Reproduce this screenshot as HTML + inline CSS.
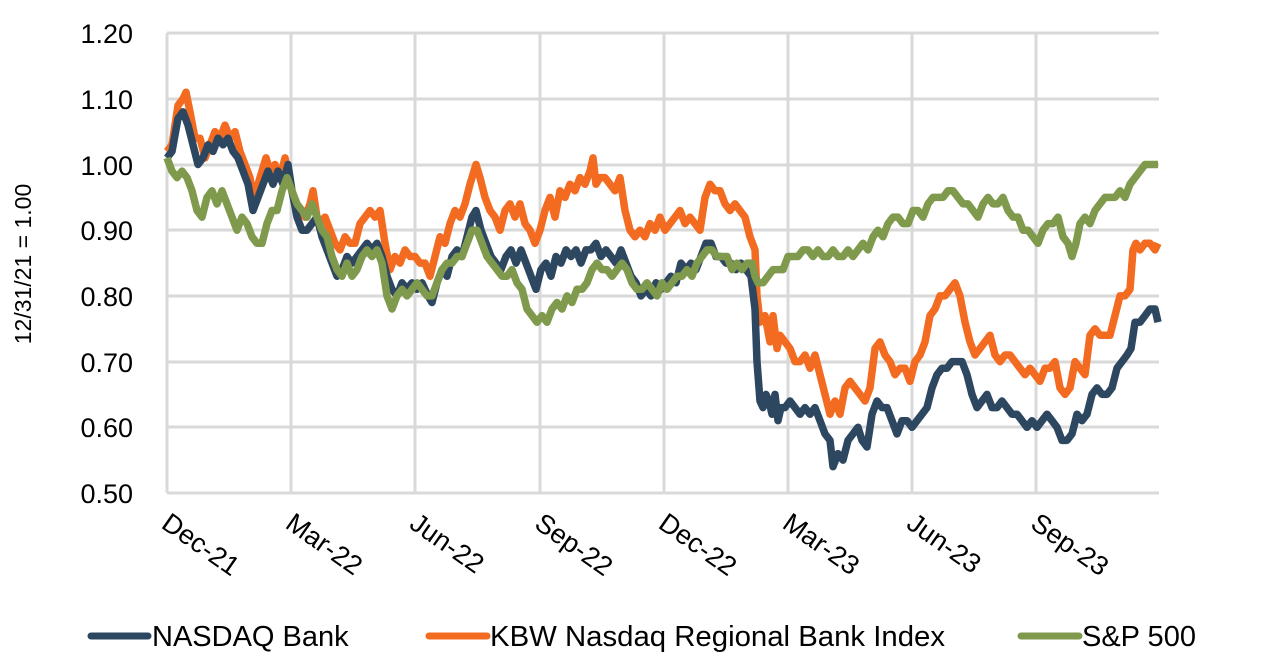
<!DOCTYPE html>
<html><head><meta charset="utf-8"><style>
html,body{margin:0;padding:0;background:#fff}
svg text{font-family:"Liberation Sans",Arial,sans-serif;fill:#000}
</style></head><body>
<svg id="s" width="1273" height="659" viewBox="0 0 1273 659" xmlns="http://www.w3.org/2000/svg">
<g stroke="#d9d9d9" stroke-width="3" fill="none">
<line x1="167" y1="33" x2="1159" y2="33"/><line x1="167" y1="99" x2="1159" y2="99"/>
<line x1="167" y1="165" x2="1159" y2="165"/><line x1="167" y1="230" x2="1159" y2="230"/>
<line x1="167" y1="296" x2="1159" y2="296"/><line x1="167" y1="362" x2="1159" y2="362"/>
<line x1="167" y1="427" x2="1159" y2="427"/><line x1="167" y1="493" x2="1159" y2="493"/>
<line x1="167" y1="33" x2="167" y2="493"/><line x1="291" y1="33" x2="291" y2="493"/>
<line x1="415" y1="33" x2="415" y2="493"/><line x1="540" y1="33" x2="540" y2="493"/>
<line x1="664" y1="33" x2="664" y2="493"/><line x1="788" y1="33" x2="788" y2="493"/>
<line x1="912" y1="33" x2="912" y2="493"/><line x1="1036" y1="33" x2="1036" y2="493"/>
</g>
<g font-size="27" text-anchor="end">
<text x="133" y="43">1.20</text><text x="133" y="109">1.10</text><text x="133" y="175">1.00</text>
<text x="133" y="240">0.90</text><text x="133" y="306">0.80</text><text x="133" y="372">0.70</text>
<text x="133" y="437">0.60</text><text x="133" y="503">0.50</text>
</g>
<text font-size="23" text-anchor="middle" transform="translate(31,264) rotate(-90)">12/31/21 = 1.00</text>
<g font-size="27">
<text transform="translate(160,527) rotate(35)">Dec-21</text>
<text transform="translate(284,527) rotate(35)">Mar-22</text>
<text transform="translate(408,527) rotate(35)">Jun-22</text>
<text transform="translate(533,527) rotate(35)">Sep-22</text>
<text transform="translate(657,527) rotate(35)">Dec-22</text>
<text transform="translate(781,527) rotate(35)">Mar-23</text>
<text transform="translate(905,527) rotate(35)">Jun-23</text>
<text transform="translate(1029,527) rotate(35)">Sep-23</text>
</g>
<g id="series"></g>
<g font-size="29">
<line x1="91" y1="636" x2="148" y2="636" stroke="#2e4760" stroke-width="7" stroke-linecap="round"/>
<text x="152" y="646">NASDAQ Bank</text>
<line x1="429" y1="636" x2="487" y2="636" stroke="#f26b21" stroke-width="7" stroke-linecap="round"/>
<text x="490" y="646" textLength="455" lengthAdjust="spacingAndGlyphs">KBW Nasdaq Regional Bank Index</text>
<line x1="1021" y1="636" x2="1079" y2="636" stroke="#7f9a4c" stroke-width="7" stroke-linecap="round"/>
<text x="1082" y="646">S&amp;P 500</text>
</g>
</svg>
<script>
var O=[167,1.02,172,1.03,178,1.09,183,1.10,186,1.11,190,1.08,195,1.04,200,1.04,205,1.01,210,1.03,215,1.05,220,1.04,225,1.06,230,1.04,235,1.05,240,1.02,245,1.00,250,0.98,253,0.95,258,0.97,262,0.99,266,1.01,270,0.99,275,1.00,280,0.98,285,1.01,290,0.97,295,0.94,300,0.93,305,0.92,310,0.94,313,0.96,318,0.91,325,0.92,330,0.90,335,0.88,340,0.87,345,0.89,350,0.88,355,0.88,360,0.91,365,0.92,370,0.93,375,0.92,380,0.93,385,0.88,390,0.84,395,0.86,400,0.85,405,0.87,410,0.86,415,0.86,420,0.85,425,0.85,430,0.83,435,0.86,440,0.89,445,0.88,450,0.91,455,0.93,460,0.92,465,0.94,470,0.97,476,1.00,480,0.98,485,0.95,490,0.93,495,0.92,500,0.90,505,0.93,510,0.94,515,0.92,520,0.94,525,0.91,530,0.90,535,0.88,540,0.90,545,0.93,550,0.95,555,0.92,560,0.96,565,0.95,570,0.97,575,0.96,580,0.98,585,0.97,590,0.99,593,1.01,596,0.97,600,0.98,605,0.98,610,0.97,615,0.96,620,0.98,625,0.93,630,0.90,635,0.89,640,0.90,645,0.89,650,0.91,655,0.90,660,0.92,665,0.90,670,0.91,675,0.92,680,0.93,685,0.91,690,0.92,695,0.91,700,0.90,705,0.95,710,0.97,715,0.96,720,0.96,725,0.94,730,0.93,735,0.94,740,0.93,745,0.92,750,0.89,755,0.87,757,0.80,760,0.76,765,0.77,770,0.73,773,0.77,777,0.72,780,0.74,785,0.73,790,0.72,795,0.70,800,0.70,805,0.71,810,0.69,815,0.71,820,0.68,825,0.65,830,0.62,835,0.64,840,0.62,845,0.66,850,0.67,855,0.66,860,0.65,865,0.64,870,0.66,875,0.72,880,0.73,885,0.71,890,0.70,895,0.68,900,0.69,905,0.69,910,0.67,915,0.70,920,0.71,925,0.73,930,0.77,935,0.78,940,0.80,945,0.80,950,0.81,955,0.82,960,0.80,965,0.76,970,0.73,975,0.71,980,0.72,985,0.73,990,0.74,995,0.71,1000,0.70,1005,0.71,1010,0.71,1015,0.70,1020,0.69,1025,0.68,1030,0.69,1035,0.68,1040,0.67,1045,0.69,1050,0.69,1055,0.70,1060,0.66,1065,0.65,1070,0.66,1075,0.70,1080,0.69,1085,0.68,1090,0.74,1095,0.75,1100,0.74,1105,0.74,1110,0.74,1115,0.77,1120,0.80,1125,0.80,1130,0.81,1133,0.87,1136,0.88,1140,0.87,1145,0.88,1150,0.88,1155,0.87,1158,0.88];
var N=[167,1.01,172,1.02,178,1.07,183,1.08,188,1.06,193,1.03,198,1.00,203,1.01,208,1.03,213,1.02,218,1.04,223,1.03,228,1.04,233,1.02,238,1.01,243,0.99,248,0.97,253,0.93,258,0.95,263,0.97,268,0.99,273,0.97,278,0.99,283,0.97,288,1.00,292,0.96,297,0.92,302,0.90,307,0.90,312,0.91,317,0.92,322,0.89,327,0.87,332,0.85,337,0.83,342,0.84,347,0.86,352,0.85,357,0.86,362,0.87,367,0.88,372,0.87,377,0.88,382,0.86,387,0.83,392,0.81,397,0.80,402,0.82,407,0.81,412,0.82,417,0.81,422,0.82,428,0.80,432,0.79,437,0.82,442,0.84,447,0.83,452,0.86,457,0.87,462,0.86,467,0.89,472,0.92,476,0.93,481,0.90,486,0.88,491,0.86,496,0.85,501,0.84,506,0.86,511,0.87,516,0.85,521,0.87,526,0.85,531,0.83,536,0.81,541,0.84,546,0.85,551,0.83,556,0.86,561,0.85,566,0.87,571,0.86,576,0.87,581,0.85,586,0.87,591,0.87,596,0.88,601,0.86,606,0.87,611,0.86,616,0.85,621,0.87,626,0.85,631,0.83,636,0.82,641,0.80,646,0.81,651,0.80,656,0.82,661,0.81,666,0.82,671,0.83,676,0.82,681,0.85,686,0.84,691,0.85,696,0.84,701,0.86,706,0.88,711,0.88,716,0.86,721,0.86,726,0.85,731,0.85,736,0.84,741,0.85,746,0.84,751,0.83,755,0.78,757,0.70,760,0.64,763,0.63,766,0.65,769,0.64,772,0.62,775,0.65,778,0.61,781,0.63,785,0.63,790,0.64,795,0.63,800,0.62,805,0.63,810,0.62,815,0.63,820,0.61,825,0.59,830,0.58,833,0.54,838,0.56,843,0.55,848,0.58,853,0.59,858,0.60,862,0.58,867,0.57,872,0.62,877,0.64,882,0.63,887,0.63,892,0.61,897,0.59,902,0.61,907,0.61,912,0.60,917,0.61,922,0.62,927,0.63,932,0.66,937,0.68,942,0.69,947,0.69,952,0.70,957,0.70,962,0.70,967,0.68,972,0.65,977,0.63,982,0.64,987,0.65,992,0.63,997,0.63,1002,0.64,1007,0.63,1012,0.62,1017,0.62,1022,0.61,1027,0.60,1032,0.61,1037,0.60,1042,0.61,1047,0.62,1052,0.61,1057,0.60,1062,0.58,1067,0.58,1072,0.59,1077,0.62,1082,0.61,1087,0.62,1092,0.65,1097,0.66,1102,0.65,1107,0.65,1112,0.66,1117,0.69,1122,0.70,1127,0.71,1131,0.72,1135,0.76,1140,0.76,1145,0.77,1150,0.78,1155,0.78,1158,0.76];
var G=[167,1.01,172,0.99,177,0.98,182,0.99,187,0.98,192,0.96,197,0.93,202,0.92,207,0.95,212,0.96,217,0.94,222,0.96,227,0.94,232,0.92,237,0.90,242,0.92,247,0.91,252,0.89,257,0.88,262,0.88,267,0.91,272,0.93,277,0.93,282,0.96,287,0.98,292,0.96,297,0.94,302,0.93,307,0.92,312,0.94,317,0.92,322,0.90,327,0.89,332,0.86,337,0.84,342,0.83,347,0.85,352,0.83,357,0.84,362,0.86,367,0.87,372,0.86,377,0.87,382,0.85,387,0.80,392,0.78,397,0.80,402,0.81,407,0.80,412,0.81,417,0.82,422,0.81,427,0.80,432,0.80,437,0.82,442,0.84,447,0.85,452,0.85,457,0.86,462,0.86,467,0.88,472,0.90,477,0.90,482,0.88,487,0.86,492,0.85,497,0.84,502,0.83,507,0.83,512,0.84,517,0.82,522,0.81,527,0.78,532,0.77,537,0.76,542,0.77,547,0.76,552,0.78,557,0.79,562,0.78,567,0.80,572,0.79,577,0.81,582,0.81,587,0.82,592,0.84,597,0.85,602,0.84,607,0.84,612,0.83,617,0.84,622,0.85,627,0.84,632,0.82,637,0.81,642,0.81,647,0.82,652,0.81,657,0.80,662,0.82,667,0.81,672,0.82,677,0.83,682,0.83,687,0.84,692,0.83,697,0.85,702,0.86,707,0.87,712,0.87,717,0.86,722,0.86,727,0.86,732,0.84,737,0.85,742,0.84,747,0.85,752,0.85,755,0.83,758,0.82,763,0.82,768,0.83,773,0.84,778,0.84,783,0.84,788,0.86,793,0.86,798,0.86,803,0.87,808,0.87,813,0.86,818,0.87,823,0.86,828,0.86,833,0.87,838,0.86,843,0.86,848,0.87,853,0.86,858,0.87,863,0.88,868,0.87,873,0.89,878,0.90,883,0.89,888,0.91,893,0.92,898,0.92,903,0.91,908,0.91,913,0.93,918,0.93,923,0.92,928,0.94,933,0.95,938,0.95,943,0.95,948,0.96,953,0.96,958,0.95,963,0.94,968,0.94,973,0.93,978,0.92,983,0.94,988,0.95,993,0.94,998,0.94,1003,0.95,1008,0.93,1013,0.92,1018,0.92,1023,0.90,1028,0.90,1033,0.89,1038,0.88,1043,0.90,1048,0.91,1053,0.91,1058,0.92,1063,0.89,1068,0.88,1072,0.86,1076,0.88,1080,0.91,1085,0.92,1090,0.91,1095,0.93,1100,0.94,1105,0.95,1110,0.95,1115,0.95,1120,0.96,1125,0.95,1130,0.97,1135,0.98,1140,0.99,1145,1.00,1150,1.00,1155,1.00,1158,1.00];
function pts(a){var s=[];for(var i=0;i<a.length;i+=2){s.push(a[i]+","+(493-(a[i+1]-0.5)*657).toFixed(1));}return s.join(" ");}
var g=document.getElementById("series"),ns="http://www.w3.org/2000/svg";
[[O,"#f26b21"],[N,"#2e4760"],[G,"#7f9a4c"]].forEach(function(d){var p=document.createElementNS(ns,"polyline");p.setAttribute("points",pts(d[0]));p.setAttribute("fill","none");p.setAttribute("stroke",d[1]);p.setAttribute("stroke-width","7.5");p.setAttribute("stroke-linejoin","round");g.appendChild(p);});
</script>
</body></html>
